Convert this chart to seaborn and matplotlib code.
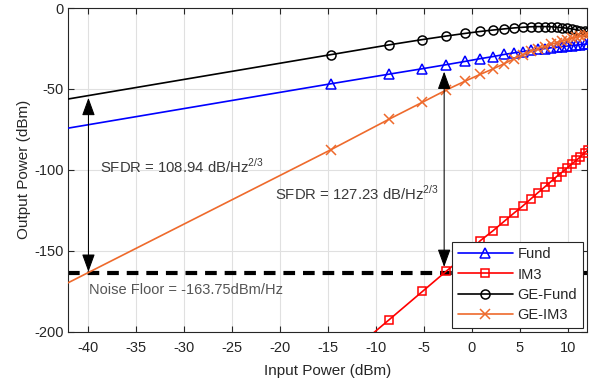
import numpy as np
import pandas as pd
import matplotlib
matplotlib.use("Agg")
import matplotlib.pyplot as plt
import seaborn as sns

# input power sweep (dBm); first point sits left of the visible range
pin = [-45.0, -14.70, -8.68, -5.16, -2.66, -0.72, 0.86, 2.20, 3.36, 4.38, 5.30,
       6.13, 6.88, 7.58, 8.22, 8.82, 9.38, 9.91, 10.41, 10.88, 11.32, 11.74, 12.15]

fund = [-77.1, -46.8, -40.9, -37.5, -35.0, -33.0, -31.3, -30.0, -28.7, -27.7, -26.9,
        -26.2, -25.6, -25.1, -24.6, -24.2, -23.8, -23.5, -23.2, -22.9, -22.6, -22.4, -22.2]
im3 = [-374.4, -222.9, -192.8, -175.1, -162.5, -153.0, -143.8, -137.6, -131.8, -126.7, -122.3,
       -118.0, -114.1, -110.6, -107.3, -104.2, -101.5, -98.9, -96.4, -94.1, -91.9, -89.4, -87.6]
ge_fund = [-59.1, -28.8, -22.8, -19.5, -17.3, -15.7, -14.5, -13.6, -12.9, -12.3, -11.9,
           -11.6, -11.5, -11.5, -11.6, -11.8, -12.1, -12.5, -12.9, -13.4, -13.9, -14.4, -15.0]
ge_im3 = [-178.4, -87.5, -68.8, -58.2, -50.6, -45.2, -41.0, -37.6, -34.4, -31.4, -28.8,
          -26.8, -25.2, -23.8, -22.5, -21.4, -20.4, -19.5, -18.7, -18.0, -17.4, -16.9, -16.4]

noise_floor = -163.75
sfdr_lo = 108.94
sfdr_hi = 127.23
arrow_lo = [-40.0, -55.5, -163.0]   # x, top tip, bottom tip
arrow_hi = [-2.9, -39.3, -160.0]

sns.set_style("whitegrid")
plt.rcParams['font.family'] = ['Liberation Sans', 'DejaVu Sans']
plt.rcParams['axes.unicode_minus'] = False
plt.rcParams['mathtext.fontset'] = 'custom'
plt.rcParams['mathtext.rm'] = 'Liberation Sans'

df = pd.DataFrame({'pin': pin, 'Fund': fund, 'IM3': im3,
                   'GE-Fund': ge_fund, 'GE-IM3': ge_im3})

fig = plt.figure(figsize=(5.93, 3.83), dpi=100)
ax = fig.add_axes([0.1152, 0.1339, 0.8747, 0.8452])

ax.axhline(noise_floor, color='black', lw=3.0, ls=(0, (2.8, 1.9)), zorder=2)

styles = {
    'Fund': dict(color='#0000FF', marker='^', ms=7),
    'IM3': dict(color='#FF0000', marker='s', ms=5.5),
    'GE-Fund': dict(color='black', marker='o', ms=6.5),
    'GE-IM3': dict(color='#EE6A2C', marker='x', ms=6.5),
}
marks = list(range(1, len(pin)))
for name, st in styles.items():
    mfc = st['color'] if st['marker'] == 'x' else 'none'
    sns.lineplot(data=df, x='pin', y=name, ax=ax, label=name, sort=False,
                 estimator=None, color=st['color'], lw=1.2, marker=st['marker'],
                 markersize=st['ms'], markerfacecolor=mfc,
                 markeredgecolor=st['color'], markeredgewidth=1.1,
                 markevery=marks, zorder=3)

for x0, top, bot in [arrow_lo, arrow_hi]:
    ax.annotate('', xy=(x0, top), xytext=(x0, bot),
                arrowprops=dict(arrowstyle='<|-|>,head_length=1.1,head_width=0.4',
                                color='black', lw=0.75, shrinkA=0, shrinkB=0),
                zorder=4)

txt_col = '#3a3a3a'
ax.text(-38.8, -101.5, 'SFDR = %.2f dB/Hz$^{2/3}$' % sfdr_lo, fontsize=10.7,
        color=txt_col, va='baseline', ha='left')
ax.text(-20.55, -118.2, 'SFDR = %.2f dB/Hz$^{2/3}$' % sfdr_hi, fontsize=10.7,
        color=txt_col, va='baseline', ha='left')
ax.text(-39.9, -176.9, 'Noise Floor = %.2fdBm/Hz' % noise_floor, fontsize=10.5,
        color='#555555', va='baseline', ha='left')

ax.set_xlim(-42.1, 12.0)
ax.set_ylim(-200, 0)
ax.set_xticks(np.arange(-40, 15, 5))
ax.set_yticks(np.arange(-200, 1, 50))
ax.set_xlabel('Input Power (dBm)', fontsize=11, color='#262626', labelpad=6)
ax.set_ylabel('Output Power (dBm)', fontsize=11, color='#262626', labelpad=2)
ax.tick_params(axis='both', direction='in', length=4, width=0.8, labelsize=10.5,
               colors='#262626', top=True, right=True, bottom=True, left=True,
               labelcolor='#262626')
ax.tick_params(axis='x', pad=7)
ax.grid(True, color='#e0e0e0', lw=0.8)
for sp in ax.spines.values():
    sp.set_color('#262626')
    sp.set_linewidth(0.8)

leg = ax.legend(loc='lower right', fontsize=10.5, frameon=True, fancybox=False,
                numpoints=1, handlelength=3.8, borderaxespad=0.28,
                labelspacing=0.42, borderpad=0.4, handletextpad=0.3)
leg.get_frame().set_edgecolor('#262626')
leg.get_frame().set_linewidth(0.8)
leg.get_frame().set_alpha(1.0)
for h in leg.get_lines():
    h.set_markevery([1])

fig.savefig('out.png', dpi=100)
